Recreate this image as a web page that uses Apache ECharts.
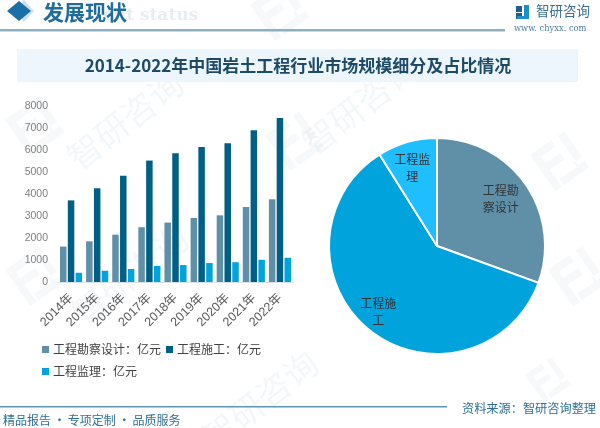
<!DOCTYPE html>
<html><head><meta charset="utf-8">
<style>html,body{margin:0;padding:0;background:#fff}#c{width:600px;height:428px}</style>
<script src="https://cdn.jsdelivr.net/npm/echarts@6/dist/echarts.min.js"></script>
</head><body><div id="c"></div>
<script>
const years = ['2014年','2015年','2016年','2017年','2018年','2019年','2020年','2021年','2022年'];
const yTicks = {min:0, max:8000, interval:1000};
const designName = '工程勘察设计：亿元';
const constructName = '工程施工：亿元';
const superviseName = '工程监理：亿元';
const design = [1610,1850,2150,2490,2700,2910,3030,3410,3760];
const construct = [3710,4260,4830,5520,5850,6140,6310,6900,7450];
const supervise = [420,510,590,730,770,860,900,1010,1100];
const pieNames = ['工程勘察设计','工程施工','工程监理'];
const pieValues = [3760,7450,1100];
const titleText = '2014-2022年中国岩土工程行业市场规模细分及占比情况';
const FF = '"Noto Sans CJK SC","Noto Sans",sans-serif';
const C1='#5f90a8', C2='#005f85', C3='#00a3dc', C4='#1ebeff';
const labelOffsets = [[17,-14],[-23,22],[-9,-23]];

function logo(x,y,s,rot){
  const col='rgba(150,180,200,0.09)';
  const r=(a,b,w,h)=>({type:'rect',shape:{x:a*s,y:b*s,width:w*s,height:h*s},style:{fill:col},silent:true});
  return {type:'group',x,y,rotation:rot,silent:true,z:0,children:[
    r(0,0,10,3),r(0,3,3,3),r(0,6,10,3),r(0,9,3,8),r(13,0,3,12),r(4,14,12,3),r(12,12,1,2)
  ]};
}
function mark(x,y,size,rot){
  return {type:'text',x,y,rotation:rot,silent:true,z:0,style:{text:'智研咨询',font:`${size}px ${FF}`,fill:'rgba(150,175,195,0.10)',textAlign:'center',textVerticalAlign:'middle'}};
}
const R = Math.PI/180;
const graphic = [
  mark(360,105,34,38*R), mark(125,120,34,38*R), mark(130,275,34,38*R), mark(260,400,34,38*R),
  logo(5,270,2.6,35*R), logo(265,135,2.6,35*R), logo(530,155,2.6,35*R), logo(548,270,2.6,35*R),
  logo(250,5,2.6,35*R), logo(5,120,2.6,35*R), logo(525,375,2.0,35*R),
  {type:'text',x:103,y:16,z:1,silent:true,style:{text:'ent status',font:`bold 17px "DejaVu Serif",serif`,fill:'#e6eef2',textVerticalAlign:'middle'}},
  {type:'polygon',z:1,silent:true,shape:{points:[[24,0],[34,11],[24,22],[14,11]]},style:{fill:'#cfe0ea'}},
  {type:'polygon',z:2,silent:true,shape:{points:[[19,1],[31,11],[19,21],[7,11]]},style:{fill:'#1a6fa6'}},
  {type:'text',x:43,y:12,z:2,silent:true,style:{text:'发展现状',font:`bold 21px ${FF}`,fill:'#1f6d9f',textVerticalAlign:'middle'}},
  {type:'rect',z:2,silent:true,shape:{x:0,y:29,width:505,height:2.5},style:{fill:'#8fb0c3'}},
  {type:'rect',z:2,silent:true,shape:{x:516,y:6,width:6,height:6},style:{fill:'#1f5f8f'}},
  {type:'rect',z:2,silent:true,shape:{x:516,y:13,width:6,height:6},style:{fill:'#1f5f8f'}},
  {type:'rect',z:2,silent:true,shape:{x:524,y:5,width:5,height:11},style:{fill:'#1f8fc8'}},
  {type:'rect',z:2,silent:true,shape:{x:517,y:16,width:12,height:3},style:{fill:'#1f8fc8'}},
  {type:'text',x:536,y:11,z:2,silent:true,style:{text:'智研咨询',font:`13.5px ${FF}`,fill:'#3b6f8f',textVerticalAlign:'middle'}},
  {type:'text',x:514,y:29,z:2,silent:true,style:{text:'www. chyxx. com',font:`8.3px "DejaVu Serif",serif`,fill:'#4f7f9a',textVerticalAlign:'middle'}},
  {type:'rect',z:1,silent:true,shape:{x:17,y:49,width:561,height:33},style:{fill:'#ecf6fc'}},
  {type:'text',x:298,y:66,z:2,silent:true,style:{text:titleText,font:`bold 17px ${FF}`,fill:'#1d4a68',textAlign:'center',textVerticalAlign:'middle'}},
  {type:'rect',z:2,silent:true,shape:{x:0,y:406,width:447,height:1.5},style:{fill:'#5f96b5'}},
  {type:'text',x:3,y:420,z:2,silent:true,style:{text:'精品报告\u2009·\u2009专项定制\u2009·\u2009品质服务',font:`12px ${FF}`,fill:'#2f6f94',textVerticalAlign:'middle'}},
  {type:'text',x:462,y:408,z:2,silent:true,style:{text:'资料来源：智研咨询整理',font:`12.2px ${FF}`,fill:'#2f6f94',textVerticalAlign:'middle'}}
];
const mk=(name,data,color)=>({type:'bar',name,data,barWidth:6.5,barGap:'20%',itemStyle:{color},animation:false,z:3});
const chart = echarts.init(document.getElementById('c'),null,{renderer:'canvas'});
chart.setOption({
  animation:false,
  graphic:{elements:graphic},
  grid:{left:58,top:106,width:235,height:176,containLabel:false},
  legend:{left:37,top:336,width:245,itemWidth:7,itemHeight:7,itemGap:5,icon:'rect',
    textStyle:{fontFamily:FF,fontSize:12,color:'#404040',height:17,lineHeight:17,padding:[0,0,0,-1]},
    data:[designName,constructName,superviseName]},
  xAxis:{type:'category',data:years,axisTick:{show:false},axisLine:{lineStyle:{color:'#d9e2e8'}},
    axisLabel:{rotate:45,fontFamily:'"Liberation Sans",'+FF,fontSize:12.5,color:'#595959',margin:14,interval:0}},
  yAxis:{type:'value',min:yTicks.min,max:yTicks.max,interval:yTicks.interval,splitLine:{show:false},axisLine:{show:false},axisTick:{show:false},
    axisLabel:{fontFamily:'"Liberation Sans",sans-serif',fontSize:10.5,color:'#7f7f7f',margin:10,formatter:v=>String(v)}},
  series:[mk(designName,design,C1),mk(constructName,construct,C2),mk(superviseName,supervise,C3),
   {type:'pie',center:[437,246],radius:[0,108],startAngle:90,clockwise:true,animation:false,z:3,
    itemStyle:{borderColor:'#fff',borderWidth:2},
    labelLine:{show:false},
    data:pieNames.map((name,i)=>({name,value:pieValues[i],
      itemStyle:{color:[C1,C3,C4][i]},
      label:{show:true,position:'inside',offset:labelOffsets[i],width:38,overflow:'break',lineHeight:17,align:'center',
        fontFamily:FF,fontSize:12,color:'#333',formatter:'{b}'}}))}
  ]
});
</script></body></html>
